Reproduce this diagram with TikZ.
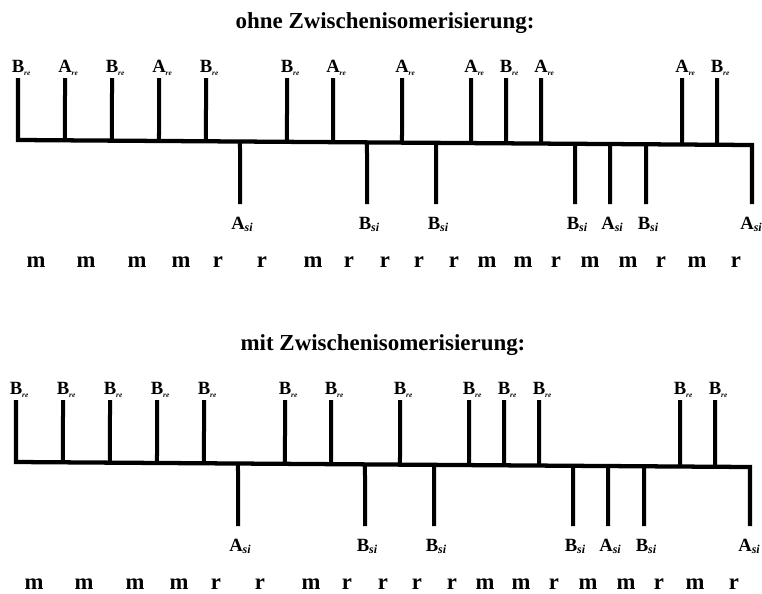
\documentclass[tikz,border=0pt]{standalone}
\usepackage{fontspec}
\setmainfont{Liberation Serif}
\usetikzlibrary{calc}
\newcommand\resub{\raisebox{-0.45ex}{\fontsize{5.5}{5.5}\selectfont\bfseries\itshape re}}
\newcommand\sisub{\raisebox{-0.25ex}{\fontsize{9}{9}\selectfont\bfseries\itshape si}}
\tikzset{
  tick/.style={line width=3pt, line cap=butt},
  backbone/.style={line width=3.2pt, line join=miter},
  lab/.style={font=\fontsize{14}{14}\selectfont\bfseries, anchor=base, inner sep=0pt},
  seq/.style={font=\fontsize{17}{17}\selectfont\bfseries, anchor=base, inner sep=0pt},
  ttl/.style={font=\fontsize{17.2}{17.2}\selectfont\bfseries, anchor=base, inner sep=0pt},
}
\newcommand\chain[5]{%
  \coordinate (#1L) at (18,140);
  \coordinate (#1R) at (752,145);
  \node[ttl] (#1title) at (385,28) {#5};
  \foreach \x/\l [count=\i] in {#2} {
    \pgfmathsetmacro\t{(\x-18)/734}
    \coordinate (#1ut\i) at (\x,78);
    \coordinate (#1ub\i) at ($(#1L)!\t!(#1R)$);
    \draw[tick] (#1ut\i) -- (#1ub\i);
    \node[lab] (#1ul\i) at (\x,72) {\l\rlap{\resub}};
  }
  \foreach \x/\l [count=\i] in {#3} {
    \pgfmathsetmacro\t{(\x-18)/734}
    \pgfmathsetmacro\lx{min(\x-2,747)}
    \coordinate (#1dt\i) at ($(#1L)!\t!(#1R)$);
    \coordinate (#1de\i) at (\x,204);
    \draw[tick] (#1dt\i) -- (#1de\i);
    \node[lab] (#1dl\i) at (\lx,229) {\l\rlap{\sisub}};
  }
  \draw[backbone] (#1ut1) -- (#1L) -- (#1R) -- (#1de7);
  \foreach \x/\l [count=\i] in {#4} {
    \node[seq] (#1s\i) at (\x,267) {\l};
  }
}
\begin{document}
\begin{tikzpicture}[x=0.75pt,y=-0.75pt]
\useasboundingbox (0,0) rectangle (762,593);
\begin{scope}
\chain{a}{18/B,65/A,112/B,159/A,206/B,287/B,333/A,402/A,471/A,506/B,541/A,682/A,717/B}
  {240/A,367/B,436/B,575/B,610/A,646/B,752/A}
  {36/m,86/m,137/m,181/m,218/r,262/r,313/m,349/r,385/r,419/r,454/r,487/m,523/m,556/r,590/m,628/m,661/r,697/m,736/r}
  {ohne Zwischenisomerisierung:}
\end{scope}
\begin{scope}[shift={(-2,322)}]
\chain{b}{18/B,65/B,112/B,159/B,206/B,287/B,333/B,402/B,471/B,506/B,541/B,682/B,717/B}
  {240/A,367/B,436/B,575/B,610/A,646/B,752/A}
  {36/m,86/m,137/m,181/m,218/r,262/r,313/m,349/r,385/r,419/r,454/r,487/m,523/m,556/r,590/m,628/m,661/r,697/m,736/r}
  {mit Zwischenisomerisierung:}
\end{scope}
\end{tikzpicture}
\end{document}
